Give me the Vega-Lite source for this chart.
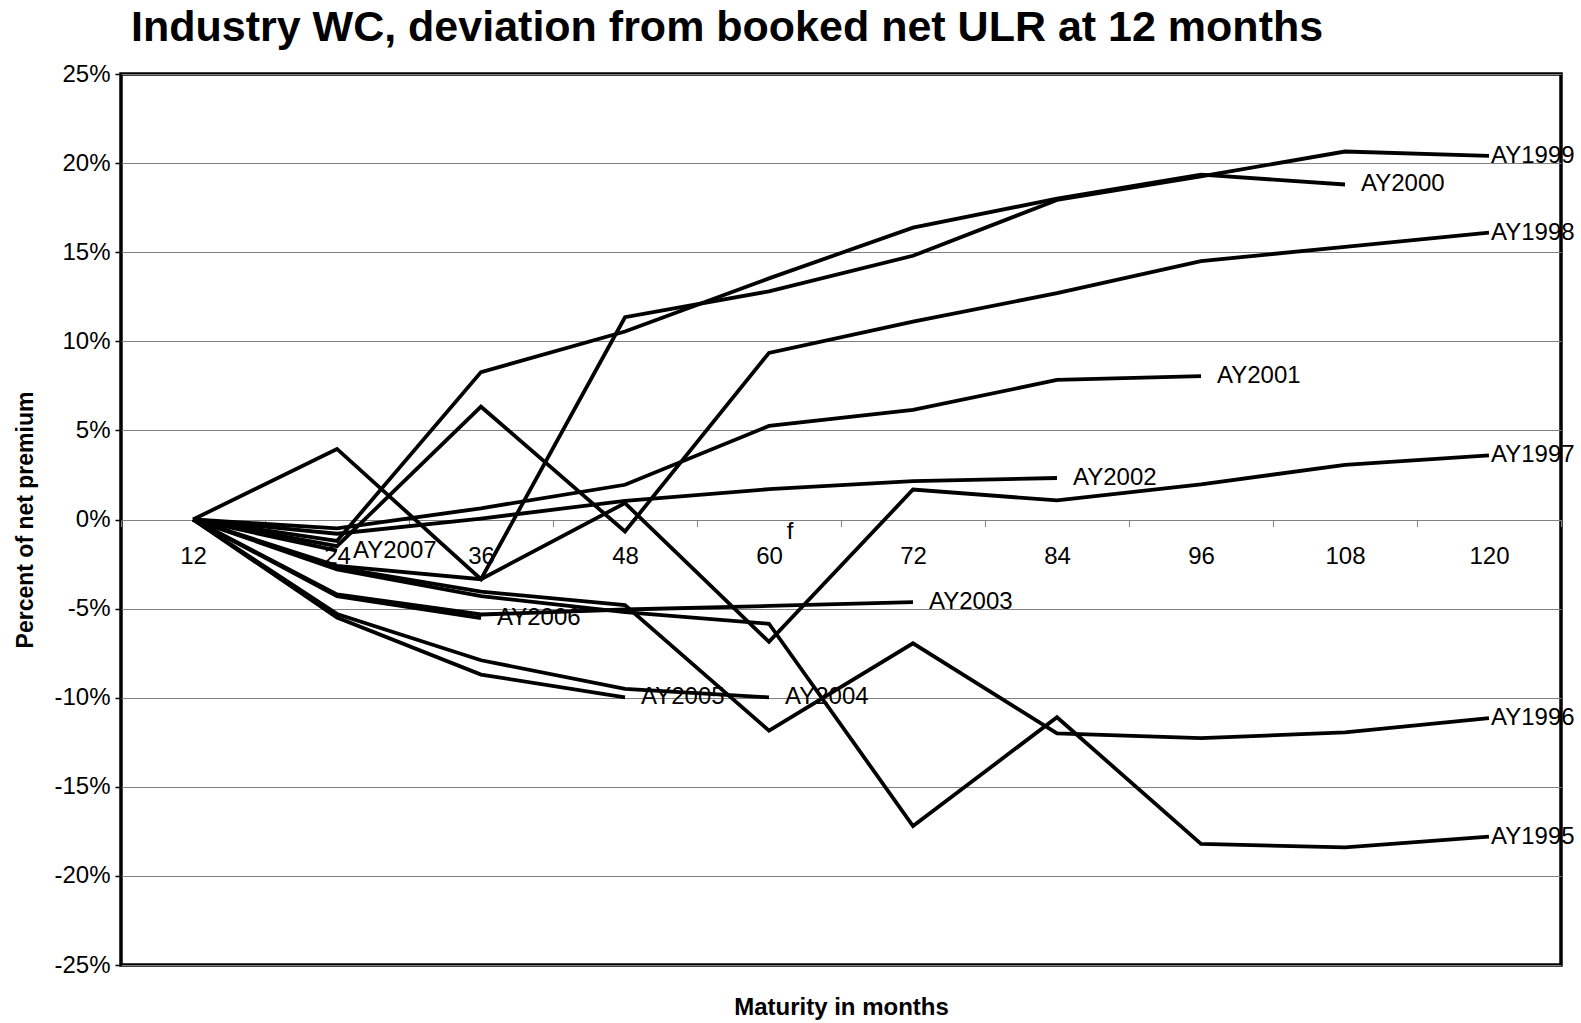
{
  "$schema": "https://vega.github.io/schema/vega-lite/v6.json",
  "width": 1440,
  "height": 891,
  "autosize": {"type": "none"},
  "padding": {"left": 121, "top": 74, "right": 20, "bottom": 58},
  "background": "white",
  "config": {"view": {"stroke": "black", "strokeWidth": 3.5}, "font": "Liberation Sans"},
  "title": {"text": "Industry WC, deviation from booked net ULR at 12 months", "anchor": "start", "frame": "group", "dx": 10, "fontSize": 43, "font": "Liberation Sans", "fontWeight": "bold", "color": "black", "offset": 12},
  "data": {"values": [
    {"ay": "AY1995", "maturity": 12, "value": 0}, {"ay": "AY1995", "maturity": 24, "value": -2.8}, {"ay": "AY1995", "maturity": 36, "value": -4.3}, {"ay": "AY1995", "maturity": 48, "value": -5.2}, {"ay": "AY1995", "maturity": 60, "value": -5.85}, {"ay": "AY1995", "maturity": 72, "value": -17.2}, {"ay": "AY1995", "maturity": 84, "value": -11.1}, {"ay": "AY1995", "maturity": 96, "value": -18.2}, {"ay": "AY1995", "maturity": 108, "value": -18.4}, {"ay": "AY1995", "maturity": 120, "value": -17.8},
    {"ay": "AY1996", "maturity": 12, "value": 0}, {"ay": "AY1996", "maturity": 24, "value": -2.7}, {"ay": "AY1996", "maturity": 36, "value": -4.05}, {"ay": "AY1996", "maturity": 48, "value": -4.8}, {"ay": "AY1996", "maturity": 60, "value": -11.85}, {"ay": "AY1996", "maturity": 72, "value": -6.95}, {"ay": "AY1996", "maturity": 84, "value": -12.0}, {"ay": "AY1996", "maturity": 96, "value": -12.27}, {"ay": "AY1996", "maturity": 108, "value": -11.95}, {"ay": "AY1996", "maturity": 120, "value": -11.15},
    {"ay": "AY1997", "maturity": 12, "value": 0}, {"ay": "AY1997", "maturity": 24, "value": -2.6}, {"ay": "AY1997", "maturity": 36, "value": -3.35}, {"ay": "AY1997", "maturity": 48, "value": 0.92}, {"ay": "AY1997", "maturity": 60, "value": -6.87}, {"ay": "AY1997", "maturity": 72, "value": 1.68}, {"ay": "AY1997", "maturity": 84, "value": 1.07}, {"ay": "AY1997", "maturity": 96, "value": 1.97}, {"ay": "AY1997", "maturity": 108, "value": 3.07}, {"ay": "AY1997", "maturity": 120, "value": 3.6},
    {"ay": "AY1998", "maturity": 12, "value": 0}, {"ay": "AY1998", "maturity": 24, "value": -1.5}, {"ay": "AY1998", "maturity": 36, "value": 6.33}, {"ay": "AY1998", "maturity": 48, "value": -0.67}, {"ay": "AY1998", "maturity": 60, "value": 9.35}, {"ay": "AY1998", "maturity": 72, "value": 11.1}, {"ay": "AY1998", "maturity": 84, "value": 12.7}, {"ay": "AY1998", "maturity": 96, "value": 14.5}, {"ay": "AY1998", "maturity": 108, "value": 15.3}, {"ay": "AY1998", "maturity": 120, "value": 16.1},
    {"ay": "AY1999", "maturity": 12, "value": 0}, {"ay": "AY1999", "maturity": 24, "value": 3.96}, {"ay": "AY1999", "maturity": 36, "value": -3.35}, {"ay": "AY1999", "maturity": 48, "value": 11.35}, {"ay": "AY1999", "maturity": 60, "value": 12.8}, {"ay": "AY1999", "maturity": 72, "value": 14.8}, {"ay": "AY1999", "maturity": 84, "value": 17.93}, {"ay": "AY1999", "maturity": 96, "value": 19.25}, {"ay": "AY1999", "maturity": 108, "value": 20.65}, {"ay": "AY1999", "maturity": 120, "value": 20.4},
    {"ay": "AY2000", "maturity": 12, "value": 0}, {"ay": "AY2000", "maturity": 24, "value": -1.2}, {"ay": "AY2000", "maturity": 36, "value": 8.27}, {"ay": "AY2000", "maturity": 48, "value": 10.55}, {"ay": "AY2000", "maturity": 60, "value": 13.53}, {"ay": "AY2000", "maturity": 72, "value": 16.38}, {"ay": "AY2000", "maturity": 84, "value": 18.0}, {"ay": "AY2000", "maturity": 96, "value": 19.35}, {"ay": "AY2000", "maturity": 108, "value": 18.8},
    {"ay": "AY2001", "maturity": 12, "value": 0}, {"ay": "AY2001", "maturity": 24, "value": -0.5}, {"ay": "AY2001", "maturity": 36, "value": 0.63}, {"ay": "AY2001", "maturity": 48, "value": 1.95}, {"ay": "AY2001", "maturity": 60, "value": 5.25}, {"ay": "AY2001", "maturity": 72, "value": 6.15}, {"ay": "AY2001", "maturity": 84, "value": 7.83}, {"ay": "AY2001", "maturity": 96, "value": 8.05},
    {"ay": "AY2002", "maturity": 12, "value": 0}, {"ay": "AY2002", "maturity": 24, "value": -0.8}, {"ay": "AY2002", "maturity": 36, "value": 0.05}, {"ay": "AY2002", "maturity": 48, "value": 1.05}, {"ay": "AY2002", "maturity": 60, "value": 1.7}, {"ay": "AY2002", "maturity": 72, "value": 2.15}, {"ay": "AY2002", "maturity": 84, "value": 2.33},
    {"ay": "AY2003", "maturity": 12, "value": 0}, {"ay": "AY2003", "maturity": 24, "value": -4.2}, {"ay": "AY2003", "maturity": 36, "value": -5.33}, {"ay": "AY2003", "maturity": 48, "value": -5.05}, {"ay": "AY2003", "maturity": 60, "value": -4.85}, {"ay": "AY2003", "maturity": 72, "value": -4.64},
    {"ay": "AY2004", "maturity": 12, "value": 0}, {"ay": "AY2004", "maturity": 24, "value": -5.3}, {"ay": "AY2004", "maturity": 36, "value": -7.9}, {"ay": "AY2004", "maturity": 48, "value": -9.5}, {"ay": "AY2004", "maturity": 60, "value": -9.98},
    {"ay": "AY2005", "maturity": 12, "value": 0}, {"ay": "AY2005", "maturity": 24, "value": -5.5}, {"ay": "AY2005", "maturity": 36, "value": -8.7}, {"ay": "AY2005", "maturity": 48, "value": -9.98},
    {"ay": "AY2006", "maturity": 12, "value": 0}, {"ay": "AY2006", "maturity": 24, "value": -4.3}, {"ay": "AY2006", "maturity": 36, "value": -5.53},
    {"ay": "AY2007", "maturity": 12, "value": 0}, {"ay": "AY2007", "maturity": 24, "value": -1.75}
  ]},
  "encoding": {
    "x": {
      "field": "maturity", "type": "ordinal", "bandPosition": 0.5,
      "scale": {"type": "band", "paddingInner": 0, "paddingOuter": 0},
      "axis": {"title": "Maturity in months", "orient": "bottom", "offset": -445.5, "domain": false, "grid": false, "tickBand": "extent", "ticks": true, "tickSize": 7, "tickColor": "#808080", "tickWidth": 1, "labelAngle": 0, "labelFont": "Liberation Sans", "labelFontSize": 24, "labelColor": "black", "labelPadding": 18, "titleFont": "Liberation Sans", "titleFontSize": 24, "titleFontWeight": "bold", "titleColor": "black", "titlePadding": 427}
    },
    "y": {
      "field": "value", "type": "quantitative",
      "scale": {"domain": [-25, 25], "nice": false, "zero": false},
      "axis": {"title": "Percent of net premium", "values": [-25, -20, -15, -10, -5, 0, 5, 10, 15, 20, 25], "labelExpr": "datum.value + '%'", "domain": false, "grid": true, "gridColor": "#808080", "gridWidth": 1, "tickColor": "black", "tickSize": 6, "tickWidth": 1.5, "labelFont": "Liberation Sans", "labelFontSize": 24, "labelColor": "black", "labelPadding": 5, "titleFont": "Liberation Sans", "titleFontSize": 23, "titleFontWeight": "bold", "titleColor": "black", "titlePadding": 16}
    }
  },
  "layer": [
    {"mark": {"type": "line", "color": "black", "strokeWidth": 3.8, "strokeJoin": "miter"}, "encoding": {"detail": {"field": "ay"}}},
    {
      "transform": [
        {"joinaggregate": [{"op": "max", "field": "maturity", "as": "last"}], "groupby": ["ay"]},
        {"filter": "datum.maturity == datum.last && datum.maturity < 120"}
      ],
      "mark": {"type": "text", "align": "left", "baseline": "middle", "dx": 16, "fontSize": 24, "font": "Liberation Sans", "color": "black"},
      "encoding": {"text": {"field": "ay"}}
    },
    {
      "transform": [{"filter": "datum.maturity == 120"}],
      "mark": {"type": "text", "align": "left", "baseline": "middle", "dx": 2, "fontSize": 24, "font": "Liberation Sans", "color": "black"},
      "encoding": {"text": {"field": "ay"}}
    },
    {
      "data": {"values": [{"maturity": 60, "value": -1.07, "ay": "f"}]},
      "mark": {"type": "text", "align": "center", "baseline": "alphabetic", "dx": 21, "fontSize": 24, "font": "Liberation Sans", "color": "black"},
      "encoding": {"text": {"field": "ay"}}
    }
  ]
}
